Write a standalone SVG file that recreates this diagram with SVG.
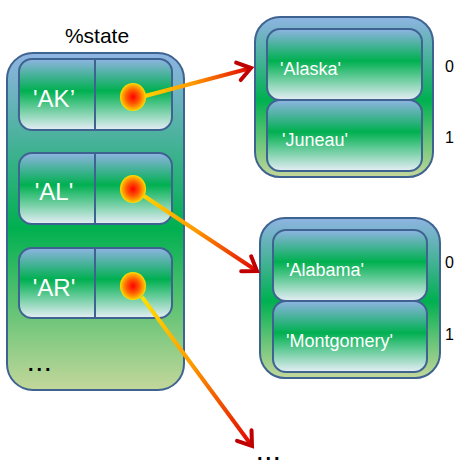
<svg xmlns="http://www.w3.org/2000/svg" width="469" height="467" viewBox="0 0 469 467">
<defs>
<linearGradient id="gOuter" x1="0" y1="0" x2="0" y2="1">
<stop offset="0" stop-color="#8fb4e3"/>
<stop offset="0.52" stop-color="#00b050"/>
<stop offset="1" stop-color="#c4d79b"/>
</linearGradient>
<linearGradient id="gRow" x1="0" y1="0" x2="0" y2="1">
<stop offset="0" stop-color="#8fb4e3"/>
<stop offset="0.45" stop-color="#00b050"/>
<stop offset="1" stop-color="#e6eef6"/>
</linearGradient>
<radialGradient id="gDot" cx="0.5" cy="0.5" r="0.5">
<stop offset="0" stop-color="#ff0000"/>
<stop offset="0.5" stop-color="#ff5a00"/>
<stop offset="0.85" stop-color="#ffb000"/>
<stop offset="1" stop-color="#ffe000"/>
</radialGradient>
<linearGradient id="gA1" gradientUnits="userSpaceOnUse" x1="145" y1="96" x2="252" y2="68">
<stop offset="0" stop-color="#ffd200"/>
<stop offset="0.45" stop-color="#ff9900"/>
<stop offset="1" stop-color="#e00000"/>
</linearGradient>
<linearGradient id="gA2" gradientUnits="userSpaceOnUse" x1="144" y1="196" x2="258" y2="272">
<stop offset="0" stop-color="#ffd200"/>
<stop offset="0.45" stop-color="#ff9900"/>
<stop offset="1" stop-color="#e00000"/>
</linearGradient>
<linearGradient id="gA3" gradientUnits="userSpaceOnUse" x1="142" y1="297" x2="253" y2="447">
<stop offset="0" stop-color="#ffe000"/>
<stop offset="0.45" stop-color="#ff9900"/>
<stop offset="1" stop-color="#e00000"/>
</linearGradient>
<marker id="arr" markerUnits="userSpaceOnUse" markerWidth="30" markerHeight="30" viewBox="-20 -15 30 30" refX="0" refY="0" orient="auto" overflow="visible">
<path d="M -13 -9 L 0 0 L -13 9" fill="none" stroke="#c00000" stroke-width="4" stroke-linecap="round" stroke-linejoin="miter"/>
</marker>
</defs>
<style>
.outer{fill:url(#gOuter);stroke:#3f6391;stroke-width:2}
.row{fill:url(#gRow);stroke:#3f6391;stroke-width:2}
.div{stroke:#3f6391;stroke-width:2}
.key{font-family:"Liberation Sans",Arial,sans-serif;font-size:24px;fill:#ffffff}
.val{font-family:"Liberation Sans",Arial,sans-serif;font-size:18px;fill:#ffffff}
.idx{font-family:"Liberation Sans",Arial,sans-serif;font-size:16px;fill:#000000}
.lbl{font-family:"Liberation Sans",Arial,sans-serif;font-size:21px;fill:#000000}
.dots{font-family:"Liberation Sans",Arial,sans-serif;font-size:20px;font-weight:bold;fill:#000000;letter-spacing:3px}
.dot{fill:url(#gDot)}
.conn{fill:none;stroke-width:4;marker-end:url(#arr)}
</style>
<text class="lbl" x="97" y="43" text-anchor="middle">%state</text>
<g id="hash">
<rect class="outer" x="7" y="53" width="177" height="337" rx="26" ry="26"/>
<text class="dots" x="28" y="371">...</text>
</g>
<g id="rowAK">
<rect class="row" x="19" y="59" width="153" height="71" rx="13" ry="13"/>
<line class="div" x1="95" y1="59" x2="95" y2="130"/>
<text class="key" x="54" y="107" text-anchor="middle">'AK’</text>
<ellipse class="dot" cx="133" cy="97" rx="13" ry="14"/>
</g>
<g id="rowAL">
<rect class="row" x="19" y="153" width="153" height="71" rx="13" ry="13"/>
<line class="div" x1="95" y1="153" x2="95" y2="224"/>
<text class="key" x="54" y="200" text-anchor="middle">'AL'</text>
<ellipse class="dot" cx="133" cy="189" rx="13" ry="14"/>
</g>
<g id="rowAR">
<rect class="row" x="19" y="248" width="153" height="70" rx="13" ry="13"/>
<line class="div" x1="95" y1="248" x2="95" y2="318"/>
<text class="key" x="54" y="296" text-anchor="middle">'AR'</text>
<ellipse class="dot" cx="133" cy="286" rx="13" ry="14"/>
</g>
<g id="arrAK">
<rect class="outer" x="255" y="17" width="178" height="160" rx="25" ry="25"/>
<rect class="row" x="267" y="29" width="155" height="71" rx="13" ry="13"/>
<rect class="row" x="267" y="100" width="155" height="71" rx="13" ry="13"/>
<text class="val" x="280" y="75">'Alaska'</text>
<text class="val" x="282" y="146">'Juneau'</text>
<text class="idx" x="445" y="72">0</text>
<text class="idx" x="445" y="143">1</text>
</g>
<g id="arrAL">
<rect class="outer" x="260" y="218" width="180" height="160" rx="25" ry="25"/>
<rect class="row" x="273" y="230" width="154" height="71" rx="13" ry="13"/>
<rect class="row" x="273" y="301" width="154" height="71" rx="13" ry="13"/>
<text class="val" x="286" y="276">'Alabama'</text>
<text class="val" x="286" y="347">'Montgomery'</text>
<text class="idx" x="445" y="268">0</text>
<text class="idx" x="445" y="340">1</text>
</g>
<g id="more">
<text class="dots" x="257" y="460">...</text>
</g>
<g id="connectors">
<line class="conn" stroke="url(#gA1)" x1="145" y1="96" x2="251" y2="68"/>
<line class="conn" stroke="url(#gA2)" x1="144" y1="196" x2="257" y2="271"/>
<line class="conn" stroke="url(#gA3)" x1="142" y1="297" x2="252" y2="446"/>
</g>
</svg>
